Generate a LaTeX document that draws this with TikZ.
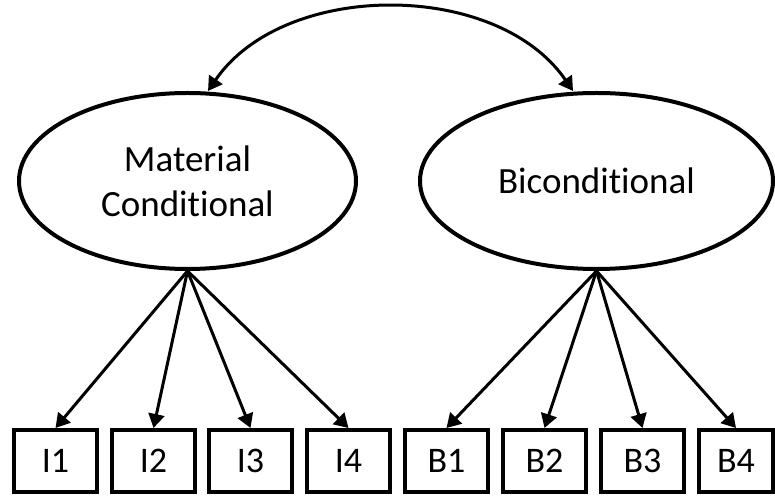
\documentclass[tikz,border=0pt]{standalone}
\usepackage{fontspec}
\setmainfont{Carlito}[Ligatures=NoCommon]
\usetikzlibrary{shapes.geometric,arrows.meta}
\begin{document}
\begin{tikzpicture}[x=1pt,y=1pt,
  latent/.style={draw, ellipse, line width=4pt, inner sep=0pt, align=center,
    font=\fontsize{37}{45}\selectfont},
  indicator/.style={draw, rectangle, line width=4pt, minimum width=83pt,
    minimum height=62pt, inner sep=0pt, font=\fontsize{36}{44}\selectfont},
  loading/.style={line width=3pt, -{Triangle[width=16pt,length=14pt]}},
  covar/.style={line width=3pt, {Triangle[width=16pt,length=14pt]}-{Triangle[width=16pt,length=14pt]}}
]
\useasboundingbox (0,0) rectangle (775,495);
\clip (0,0) rectangle (775,495);

% latent factors
\node[latent, minimum width=337pt, minimum height=176pt] (mc) at (187.5,314) {Material\\Conditional};
\node[latent, minimum width=353pt, minimum height=176pt] (bc) at (596.5,314) {Biconditional};

% indicators
\node[indicator] (i1) at (55.5,34) {I1};
\node[indicator] (i2) at (153.5,34) {I2};
\node[indicator] (i3) at (250.5,34) {I3};
\node[indicator] (i4) at (348.5,34) {I4};
\node[indicator] (b1) at (446.5,34) {B1};
\node[indicator] (b2) at (544.5,34) {B2};
\node[indicator] (b3) at (642.5,34) {B3};
\node[indicator, minimum width=74pt] (b4) at (736,34) {B4};

% factor covariance
\draw[covar] ([xshift=20.5pt]mc.north) .. controls (284,515) and (497,515) .. ([xshift=-23.5pt]bc.north);

% loadings
\foreach \t in {i1,i2,i3,i4} \draw[loading] (mc.south) -- (\t.north);
\foreach \t in {b1,b2,b3,b4} \draw[loading] (bc.south) -- (\t.north);
\end{tikzpicture}
\end{document}
